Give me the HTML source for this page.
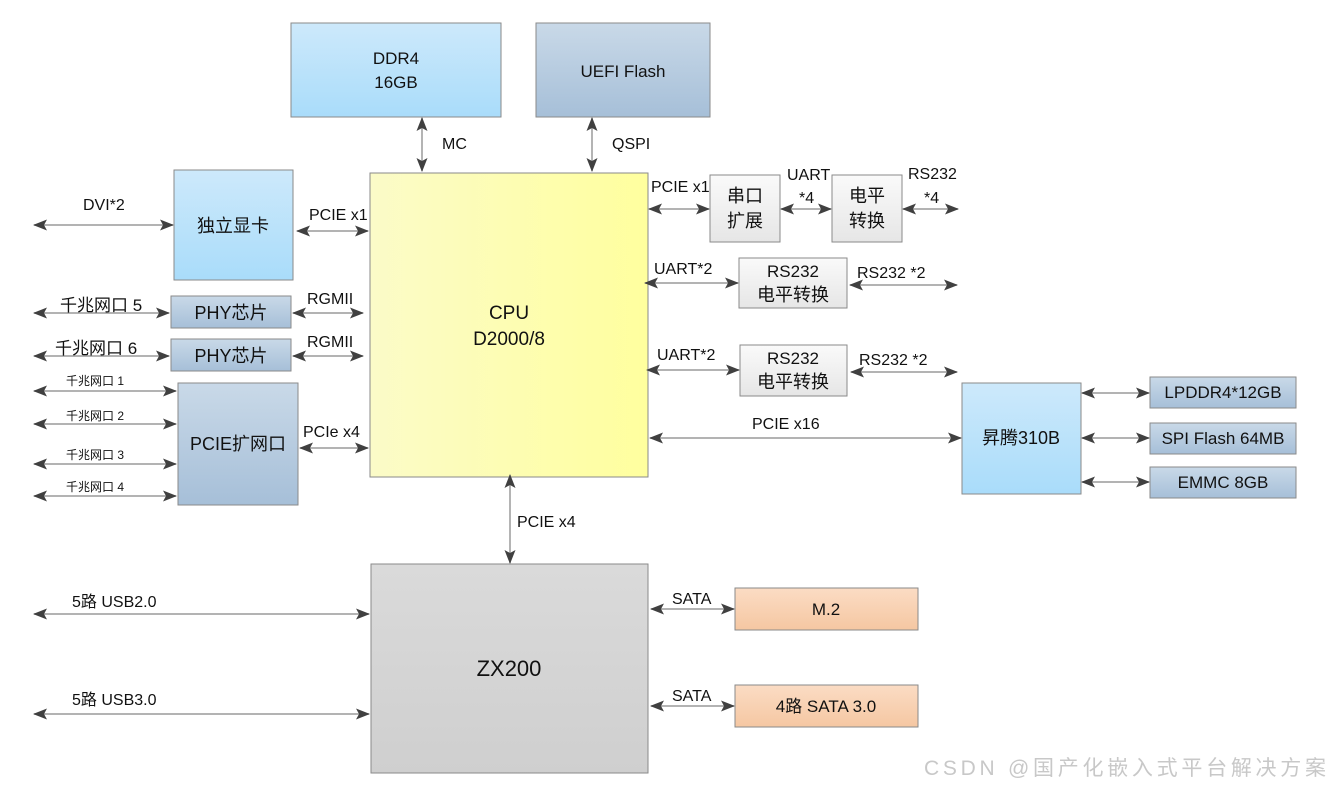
<!DOCTYPE html>
<html><head><meta charset="utf-8"><style>
html,body{margin:0;padding:0;background:#fff}
svg{display:block}
text{font-family:"Liberation Sans","Noto Sans CJK SC",sans-serif;fill:#111}
</style></head><body>
<svg width="1332" height="788" viewBox="0 0 1332 788" xmlns="http://www.w3.org/2000/svg">
<defs>
<marker id="a" viewBox="0 0 14 11" refX="13" refY="5.5" markerWidth="14" markerHeight="11" markerUnits="userSpaceOnUse" orient="auto-start-reverse"><path d="M0,0L14,5.5L0,11L3,5.5Z" fill="#404040"/></marker>
<linearGradient id="lb" x1="0" y1="0" x2="0" y2="1"><stop offset="0" stop-color="#cde9fb"/><stop offset="1" stop-color="#a9dcfa"/></linearGradient>
<linearGradient id="sb" x1="0" y1="0" x2="0" y2="1"><stop offset="0" stop-color="#c9d9e8"/><stop offset="1" stop-color="#a6bfd8"/></linearGradient>
<linearGradient id="ye" x1="0" y1="0" x2="1" y2="0"><stop offset="0" stop-color="#fbfbc8"/><stop offset="1" stop-color="#ffff9e"/></linearGradient>
<linearGradient id="gr" x1="0" y1="0" x2="0" y2="1"><stop offset="0" stop-color="#dadada"/><stop offset="1" stop-color="#cfcfcf"/></linearGradient>
<linearGradient id="wg" x1="0" y1="0" x2="0" y2="1"><stop offset="0" stop-color="#fafafa"/><stop offset="1" stop-color="#e6e6e6"/></linearGradient>
<linearGradient id="or" x1="0" y1="0" x2="0" y2="1"><stop offset="0" stop-color="#fbdcc4"/><stop offset="1" stop-color="#f5c7a2"/></linearGradient>
</defs>
<g stroke="#8a8a8a" stroke-width="1">
<rect x="291" y="23" width="210" height="94" fill="url(#lb)"/>
<rect x="536" y="23" width="174" height="94" fill="url(#sb)"/>
<rect x="370" y="173" width="278" height="304" fill="url(#ye)"/>
<rect x="174" y="170" width="119" height="110" fill="url(#lb)"/>
<rect x="171" y="296" width="120" height="32" fill="url(#sb)"/>
<rect x="171" y="339" width="120" height="32" fill="url(#sb)"/>
<rect x="178" y="383" width="120" height="122" fill="url(#sb)"/>
<rect x="710" y="175" width="70" height="67" fill="url(#wg)"/>
<rect x="832" y="175" width="70" height="67" fill="url(#wg)"/>
<rect x="739" y="258" width="108" height="50" fill="url(#wg)"/>
<rect x="740" y="345" width="107" height="51" fill="url(#wg)"/>
<rect x="962" y="383" width="119" height="111" fill="url(#lb)"/>
<rect x="1150" y="377" width="146" height="31" fill="url(#sb)"/>
<rect x="1150" y="423" width="146" height="31" fill="url(#sb)"/>
<rect x="1150" y="467" width="146" height="31" fill="url(#sb)"/>
<rect x="371" y="564" width="277" height="209" fill="url(#gr)"/>
<rect x="735" y="588" width="183" height="42" fill="url(#or)"/>
<rect x="735" y="685" width="183" height="42" fill="url(#or)"/>
</g>
<g stroke="#9a9a9a" stroke-width="1.5" marker-start="url(#a)" marker-end="url(#a)">
<line x1="422" y1="118" x2="422" y2="171"/>
<line x1="592" y1="118" x2="592" y2="171"/>
<line x1="34" y1="225" x2="173" y2="225"/>
<line x1="297" y1="231" x2="368" y2="231"/>
<line x1="34" y1="313" x2="169" y2="313"/>
<line x1="293" y1="313" x2="363" y2="313"/>
<line x1="34" y1="356" x2="169" y2="356"/>
<line x1="293" y1="356" x2="363" y2="356"/>
<line x1="34" y1="391" x2="176" y2="391"/>
<line x1="34" y1="424" x2="176" y2="424"/>
<line x1="34" y1="464" x2="176" y2="464"/>
<line x1="34" y1="496" x2="176" y2="496"/>
<line x1="300" y1="448" x2="368" y2="448"/>
<line x1="649" y1="209" x2="709" y2="209"/>
<line x1="781" y1="209" x2="831" y2="209"/>
<line x1="903" y1="209" x2="958" y2="209"/>
<line x1="645" y1="283" x2="738" y2="283"/>
<line x1="850" y1="285" x2="957" y2="285"/>
<line x1="647" y1="370" x2="739" y2="370"/>
<line x1="851" y1="372" x2="957" y2="372"/>
<line x1="650" y1="438" x2="961" y2="438"/>
<line x1="1082" y1="393" x2="1149" y2="393"/>
<line x1="1082" y1="438" x2="1149" y2="438"/>
<line x1="1082" y1="482" x2="1149" y2="482"/>
<line x1="510" y1="475" x2="510" y2="563"/>
<line x1="34" y1="614" x2="369" y2="614"/>
<line x1="34" y1="714" x2="369" y2="714"/>
<line x1="651" y1="609" x2="734" y2="609"/>
<line x1="651" y1="706" x2="734" y2="706"/>
</g>
<g font-size="17" text-anchor="middle">
<text x="396" y="64">DDR4</text><text x="396" y="88">16GB</text>
<text x="623" y="77">UEFI Flash</text>
<text x="509" y="319" font-size="19">CPU</text><text x="509" y="345" font-size="19">D2000/8</text>
<text x="233" y="232" font-size="18">独立显卡</text>
<text x="231" y="319" font-size="18">PHY芯片</text>
<text x="231" y="362" font-size="18">PHY芯片</text>
<text x="238" y="450" font-size="18">PCIE扩网口</text>
<text x="745" y="202" font-size="18">串口</text><text x="745" y="227" font-size="18">扩展</text>
<text x="867" y="202" font-size="18">电平</text><text x="867" y="227" font-size="18">转换</text>
<text x="793" y="277">RS232</text><text x="793" y="301" font-size="18">电平转换</text>
<text x="793" y="364">RS232</text><text x="793" y="388" font-size="18">电平转换</text>
<text x="1021" y="444" font-size="18">昇腾310B</text>
<text x="1223" y="398">LPDDR4*12GB</text>
<text x="1223" y="444">SPI Flash 64MB</text>
<text x="1223" y="488">EMMC 8GB</text>
<text x="509" y="676" font-size="22">ZX200</text>
<text x="826" y="615">M.2</text>
<text x="826" y="712">4路  SATA 3.0</text>
</g>
<g font-size="16">
<text x="442" y="149">MC</text>
<text x="612" y="149">QSPI</text>
<text x="83" y="210">DVI*2</text>
<text x="309" y="220">PCIE x1</text>
<text x="60" y="311" font-size="17">千兆网口 5</text>
<text x="55" y="354" font-size="17">千兆网口 6</text>
<text x="307" y="304">RGMII</text>
<text x="307" y="347">RGMII</text>
<text x="66" y="385" font-size="12">千兆网口 1</text>
<text x="66" y="420" font-size="12">千兆网口 2</text>
<text x="66" y="459" font-size="12">千兆网口 3</text>
<text x="66" y="491" font-size="12">千兆网口 4</text>
<text x="303" y="437">PCIe x4</text>
<text x="651" y="192">PCIE x1</text>
<text x="787" y="180">UART</text><text x="799" y="203">*4</text>
<text x="908" y="179">RS232</text><text x="924" y="203">*4</text>
<text x="654" y="274">UART*2</text>
<text x="857" y="278">RS232 *2</text>
<text x="657" y="360">UART*2</text>
<text x="859" y="365">RS232 *2</text>
<text x="752" y="429">PCIE x16</text>
<text x="517" y="527">PCIE x4</text>
<text x="72" y="607">5路   USB2.0</text>
<text x="72" y="705">5路  USB3.0</text>
<text x="672" y="604">SATA</text>
<text x="672" y="701">SATA</text>
</g>
<text x="924" y="775" font-size="21" textLength="402" style="fill:#c8c8c8">CSDN @国产化嵌入式平台解决方案</text>
</svg>
</body></html>
